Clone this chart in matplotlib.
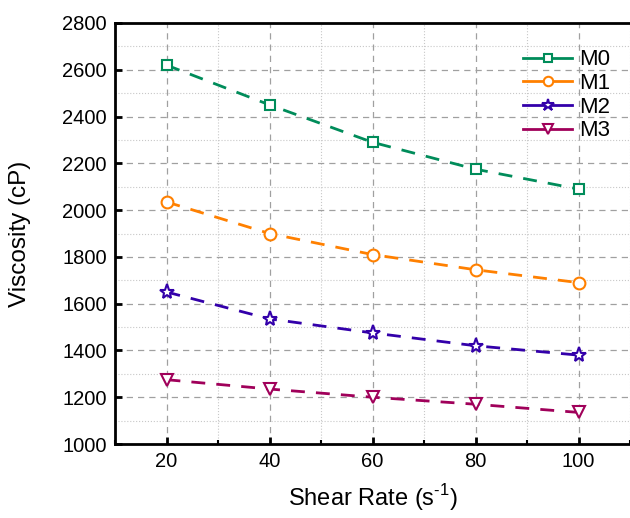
import numpy as np
import matplotlib.pyplot as plt
from matplotlib.ticker import MultipleLocator
from matplotlib.lines import Line2D

plt.rcParams['font.family'] = ['Liberation Sans', 'DejaVu Sans']
plt.rcParams['mathtext.fontset'] = 'custom'
plt.rcParams['mathtext.rm'] = 'Liberation Sans'

shear_rate = [20, 40, 60, 80, 100]
m0 = [2620, 2450, 2290, 2175, 2090]
m1 = [2035, 1900, 1810, 1745, 1690]
m2 = [1650, 1535, 1475, 1420, 1380]
m3 = [1275, 1235, 1200, 1170, 1135]

series = [
    ("M0", m0, "#008C5A", "s", 7.5),
    ("M1", m1, "#FF8000", "o", 8.5),
    ("M2", m2, "#3300AA", "*", 11),
    ("M3", m3, "#A0005A", "v", 9),
]

fig = plt.figure(figsize=(6.3, 5.18), dpi=100)
ax = fig.add_axes([115 / 630, 74 / 518, 515 / 630, 421 / 518])

handles = []
for name, vals, col, mk, ms in series:
    ax.plot(shear_rate, vals, color=col, lw=2, ls=(0, (5, 4)),
            marker=mk, ms=ms, mfc="white", mec=col, mew=1.5)
    handles.append(Line2D([], [], color=col, lw=2, marker=mk, ms=ms * 0.8,
                          mfc="white", mec=col, mew=1.5, label=name))

ax.set_xlim(10, 110)
ax.set_ylim(1000, 2800)
ax.xaxis.set_major_locator(MultipleLocator(20))
ax.xaxis.set_minor_locator(MultipleLocator(10))
ax.yaxis.set_major_locator(MultipleLocator(200))
ax.yaxis.set_minor_locator(MultipleLocator(100))

ax.grid(which="major", color="#A0A0A0", ls=(0, (5, 4)), lw=0.9)
ax.grid(which="minor", color="#C8C8C8", ls=":", lw=0.8)
ax.set_axisbelow(True)

ax.tick_params(which="major", direction="in", length=5, width=2,
               labelsize=14.5, pad=6)
ax.tick_params(which="minor", direction="in", length=3, width=1.5)
ax.tick_params(axis="y", which="minor", length=0)
ax.tick_params(top=False, right=False)
for s in ax.spines.values():
    s.set_linewidth(2)
ax.spines["right"].set_visible(False)

ax.set_xlabel("Shear Rate (s$^{\\text{-}\\mathregular{1}}$)", fontsize=17, labelpad=8)
ax.set_ylabel("Viscosity (cP)", fontsize=17.5, labelpad=22)

ax.legend(handles=handles, loc="upper right", bbox_to_anchor=(1.0, 0.985),
          frameon=False, fontsize=16, handlelength=2.2, labelspacing=0.12,
          handletextpad=0.3)

fig.savefig("out.png", dpi=100)
